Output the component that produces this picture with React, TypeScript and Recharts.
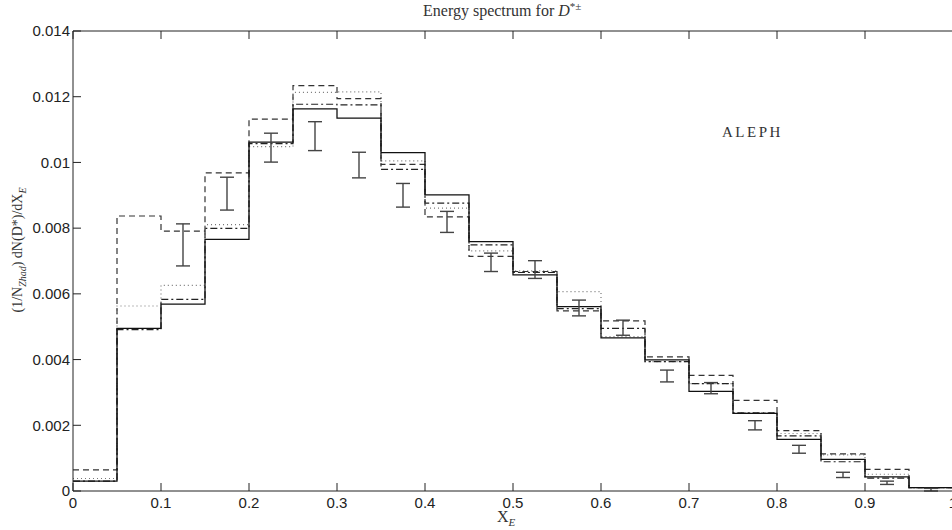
import React from "react"
import { ComposedChart, Line, Scatter, ErrorBar, XAxis, YAxis } from "recharts"

// bin edges of the X_E histogram (20 bins of 0.05)
const binEdges = [0, 0.05, 0.1, 0.15, 0.2, 0.25, 0.3, 0.35, 0.4, 0.45, 0.5, 0.55, 0.6, 0.65, 0.7, 0.75, 0.8, 0.85, 0.9, 0.95, 1]

// model curves, one value per bin
const solid = [0.0003, 0.00495, 0.00569, 0.00766, 0.01062, 0.01163, 0.01135, 0.0103, 0.00901, 0.00759, 0.00658, 0.00561, 0.00466, 0.00399, 0.00303, 0.00236, 0.00157, 0.00096, 0.00043, 0.0001]
const dashed = [0.00064, 0.00837, 0.00791, 0.00968, 0.01132, 0.01234, 0.01194, 0.00994, 0.00834, 0.00714, 0.00668, 0.00548, 0.00518, 0.00408, 0.00352, 0.00276, 0.00184, 0.00113, 0.00066, 0.0001]
const dotted = [0.00038, 0.00563, 0.00626, 0.00811, 0.01048, 0.01213, 0.01215, 0.01005, 0.00861, 0.00731, 0.0067, 0.00607, 0.0047, 0.00394, 0.00327, 0.00238, 0.00175, 0.0011, 0.00051, 0.0001]
const dashDot = [0.0003, 0.00491, 0.00583, 0.00799, 0.01057, 0.01177, 0.01175, 0.00979, 0.00876, 0.00749, 0.00665, 0.00555, 0.00495, 0.00394, 0.00327, 0.00238, 0.00168, 0.00089, 0.00039, 0.0001]

// ALEPH measurements (bin centres, value, error)
const alephX = [0.125, 0.175, 0.225, 0.275, 0.325, 0.375, 0.425, 0.475, 0.525, 0.575, 0.625, 0.675, 0.725, 0.775, 0.825, 0.875, 0.925, 0.975]
const alephY = [0.00749, 0.00905, 0.01045, 0.0108, 0.00992, 0.009, 0.00819, 0.00696, 0.00674, 0.00557, 0.00497, 0.0035, 0.00313, 0.002, 0.00127, 0.00049, 0.00025, 0.00004]
const alephErr = [0.00064, 0.0005, 0.00044, 0.00044, 0.00039, 0.00036, 0.00032, 0.00028, 0.00027, 0.00024, 0.00023, 0.00018, 0.00017, 0.00014, 0.00012, 0.00008, 0.00005, 0.00004]

const xTicks = [0, 0.1, 0.2, 0.3, 0.4, 0.5, 0.6, 0.7, 0.8, 0.9, 1]
const yTicks = [0, 0.002, 0.004, 0.006, 0.008, 0.01, 0.012, 0.014]

const histData = binEdges.map((x, i) => {
  const k = Math.min(i, solid.length - 1)
  return { x, solid: solid[k], dashed: dashed[k], dotted: dotted[k], dashDot: dashDot[k] }
})

const pointData = alephX.map((x, i) => ({ x, y: alephY[i], err: alephErr[i] }))

const sans = "Liberation Sans, Arial, sans-serif"
const serif = "Liberation Serif, Times New Roman, serif"
const INNER = 8 // inward tick length

// tick renderers: the tick mark points into the plot, label stays outside
const BottomTick = (p: any) => (
  <g>
    <line x1={p.x} x2={p.x} y1={p.y - 6} y2={p.y - 6 - INNER} stroke="#222" />
    <text x={p.x} y={p.y} dy="0.71em" textAnchor="middle" fontFamily={sans} fontSize={15} fill="#222">{String(p.payload.value)}</text>
  </g>
)
const LeftTick = (p: any) => (
  <g>
    <line x1={p.x + 3} x2={p.x + 3 + INNER} y1={p.y} y2={p.y} stroke="#222" />
    <text x={p.x} y={p.y} dy="0.355em" textAnchor="end" fontFamily={sans} fontSize={15} fill="#222">{String(p.payload.value)}</text>
  </g>
)
const TopTick = (p: any) => <line x1={p.x} x2={p.x} y1={p.y} y2={p.y + INNER} stroke="#222" />
const RightTick = (p: any) => <line x1={p.x} x2={p.x - INNER} y1={p.y} y2={p.y} stroke="#222" />

export default function App() {
  return (
    <div style={{ position: "absolute", left: 0, top: 0, width: 952, height: 530, overflow: "hidden", background: "#fff" }}>
      <ComposedChart width={960} height={530} data={histData} margin={{ top: 30, right: 6, bottom: 0, left: 0 }}>
        <XAxis dataKey="x" type="number" domain={[0, 1]} ticks={xTicks} height={39}
          tickSize={0} tickMargin={6} tickLine={false} tick={BottomTick} stroke="#222" interval={0} allowDataOverflow />
        <XAxis xAxisId="top" orientation="top" dataKey="x" type="number" domain={[0, 1]} ticks={xTicks} height={1}
          tickSize={0} tickMargin={0} tickLine={false} tick={TopTick} stroke="#222" interval={0} />
        <YAxis type="number" domain={[0, 0.014]} ticks={yTicks} width={73}
          tickSize={0} tickMargin={3} tickLine={false} tick={LeftTick} stroke="#222" interval={0} allowDataOverflow />
        <YAxis yAxisId="right" orientation="right" type="number" domain={[0, 0.014]} ticks={yTicks} width={1}
          tickSize={0} tickMargin={0} tickLine={false} tick={RightTick} stroke="#222" interval={0} />
        <Line type="stepAfter" dataKey="dotted" stroke="#777" strokeWidth={1.2} strokeDasharray="1 3" dot={false} isAnimationActive={false} />
        <Line type="stepAfter" dataKey="dashDot" stroke="#222" strokeWidth={1.2} strokeDasharray="7 3 2 3" dot={false} isAnimationActive={false} />
        <Line type="stepAfter" dataKey="dashed" stroke="#333" strokeWidth={1.2} strokeDasharray="6 4" dot={false} isAnimationActive={false} />
        <Line type="stepAfter" dataKey="solid" stroke="#111" strokeWidth={1.3} dot={false} isAnimationActive={false} />
        <Scatter data={pointData} dataKey="y" shape={() => <g />} isAnimationActive={false}>
          <ErrorBar dataKey="err" direction="y" width={7} stroke="#444" strokeWidth={1.4} />
        </Scatter>
      </ComposedChart>
      <div style={{ position: "absolute", left: 423, top: 0, fontFamily: serif, fontSize: 16, color: "#333", whiteSpace: "nowrap" }}>
        Energy spectrum for <i>D</i><sup style={{ fontSize: 11 }}>*±</sup>
      </div>
      <div style={{ position: "absolute", left: 722, top: 124, fontFamily: serif, fontSize: 15, letterSpacing: 2.5, color: "#333" }}>ALEPH</div>
      <div style={{ position: "absolute", left: 497, top: 509, fontFamily: serif, fontSize: 16, lineHeight: "16px", color: "#333" }}>
        X<sub style={{ fontSize: 11, fontStyle: "italic", lineHeight: 0 }}>E</sub>
      </div>
      <div style={{ position: "absolute", left: 19, top: 250, transform: "translate(-50%, -50%) rotate(-90deg)", fontFamily: serif, fontSize: 14, color: "#333", whiteSpace: "nowrap" }}>
        (1/N<sub style={{ fontSize: 10, fontStyle: "italic" }}>Zhad</sub>) dN(D*)/dX<sub style={{ fontSize: 10, fontStyle: "italic" }}>E</sub>
      </div>
    </div>
  )
}
